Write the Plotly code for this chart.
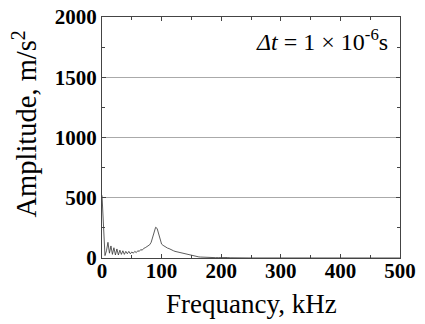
import plotly.graph_objects as go

freq_khz = [0, 2.5, 5, 7.5, 10, 12.5, 15, 17.5, 20, 22.5, 25, 27.5, 30, 32.5, 35, 37.5,
            40, 42.5, 45, 47.5, 50, 52.5, 55, 57.5, 60, 62.5, 65, 67.5, 70, 72.5, 75, 77.5,
            80, 82.5, 85, 87.5, 90, 92.5, 95, 97.5, 100, 102.5, 105, 107.5, 110, 112.5, 115,
            117.5, 120, 122.5, 125, 127.5, 130, 132.5, 135, 137.5, 140, 142.5, 145, 147.5,
            150, 152.5, 155, 157.5, 160, 162.5, 165, 167.5, 170, 175, 180, 185, 190, 195,
            200, 205, 210, 215, 220, 250, 300, 400, 500]
amplitude = [520, 250, 20, 60, 130, 40, 100, 30, 85, 25, 75, 25, 65, 30, 60, 30,
             55, 35, 55, 35, 50, 40, 55, 45, 60, 55, 70, 65, 80, 85, 95, 100,
             110, 130, 170, 220, 255, 245, 195, 140, 115, 105, 95, 90, 82, 78, 70,
             66, 60, 55, 52, 48, 44, 40, 38, 34, 30, 28, 25, 22,
             20, 16, 14, 12, 10, 9, 8, 7, 6, 5, 4, 4, 3, 3,
             5, 3, 4, 2, 1, 0.5, 0.5, 0.3, 0.2]

x_ticks = [0, 100, 200, 300, 400, 500]
y_ticks = [0, 500, 1000, 1500, 2000]

font_serif = "Times New Roman"

fig = go.Figure()
fig.add_trace(go.Scatter(x=freq_khz, y=amplitude, mode="lines",
                         line=dict(color="#333333", width=0.8), showlegend=False))

fig.add_annotation(x=0.965, y=0.905, xref="paper", yref="paper", xanchor="right", yanchor="middle",
                   text="<i>Δt</i> = 1 × 10<sup>-6</sup>s", showarrow=False,
                   font=dict(family=font_serif, size=24, color="black"))

# axis titles as annotations for exact placement
fig.add_annotation(x=0.5, y=-0.19, xref="paper", yref="paper", xanchor="center", yanchor="middle",
                   text="Frequancy, kHz", showarrow=False,
                   font=dict(family=font_serif, size=27, color="black"))
fig.add_annotation(x=-0.26, y=0.556, xref="paper", yref="paper", xanchor="center", yanchor="middle",
                   text="Amplitude, m/s<sup>2</sup>", showarrow=False, textangle=-90,
                   font=dict(family=font_serif, size=28.5, color="black"))

axis_common = dict(showline=True, linecolor="#444444", linewidth=1, mirror="allticks",
                   ticks="inside", ticklen=4, tickcolor="#444444", zeroline=False,
                   automargin=False,
                   tickfont=dict(family=font_serif, size=21, color="black"))

fig.update_xaxes(range=[0, 500], tickvals=x_ticks, ticklabelstandoff=-6,
                 ticktext=["<b>%d</b>" % v for v in x_ticks], showgrid=False,
                 minor=dict(dtick=50, ticks="inside", ticklen=3, tickcolor="#444444", showgrid=False),
                 **axis_common)
fig.update_yaxes(range=[0, 2000], tickvals=y_ticks, ticklabelstandoff=0,
                 ticktext=["<b>%d</b>" % v for v in y_ticks],
                 showgrid=True, gridcolor="#aaaaaa", gridwidth=1,
                 minor=dict(dtick=250, ticks="inside", ticklen=3, tickcolor="#444444", showgrid=False),
                 **axis_common)

fig.update_layout(width=425, height=324, margin=dict(l=102, r=25, t=17, b=66, autoexpand=False),
                  plot_bgcolor="white", paper_bgcolor="white")

fig.write_html("out.html", config={"displayModeBar": False},
               post_script="document.body.style.margin='0px';document.body.style.overflow='hidden';")
